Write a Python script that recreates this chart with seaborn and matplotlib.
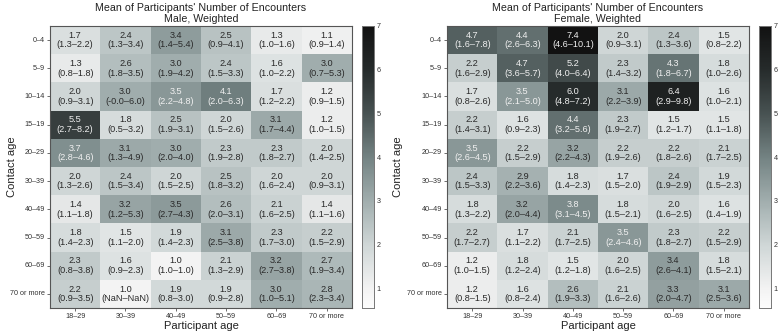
import numpy as np
import matplotlib
matplotlib.use("Agg")
import matplotlib.pyplot as plt
from matplotlib.colors import LinearSegmentedColormap
import seaborn as sns

sns.set_theme(style="white")
plt.rcParams['font.family'] = ['Liberation Sans', 'DejaVu Sans']

contact_age = ['0–4', '5–9', '10–14', '15–19', '20–29', '30–39', '40–49', '50–59', '60–69', '70 or more']
participant_age = ['18–29', '30–39', '40–49', '50–59', '60–69', '70 or more']

male_mean = [[1.7, 2.4, 3.4, 2.5, 1.3, 1.1],
             [1.3, 2.6, 3.0, 2.4, 1.6, 3.0],
             [2.0, 3.0, 3.5, 4.1, 1.7, 1.2],
             [5.5, 1.8, 2.5, 2.0, 3.1, 1.2],
             [3.7, 3.1, 3.0, 2.3, 2.3, 2.0],
             [2.0, 2.4, 2.0, 2.5, 2.0, 2.0],
             [1.4, 3.2, 3.46, 2.6, 2.1, 1.4],
             [1.8, 1.5, 1.9, 3.1, 2.3, 2.2],
             [2.3, 1.6, 1.0, 2.1, 3.2, 2.7],
             [2.2, 1.0, 1.9, 1.9, 3.0, 2.8]]
male_low = [[1.3, 1.3, 1.4, 0.9, 1.0, 0.9],
            [0.8, 1.8, 1.9, 1.5, 1.0, 0.7],
            [0.9, -0.0, 2.2, 2.0, 1.2, 0.9],
            [2.7, 0.5, 1.9, 1.5, 1.7, 1.0],
            [2.8, 1.3, 2.0, 1.9, 1.8, 1.4],
            [1.3, 1.5, 1.5, 1.8, 1.6, 0.9],
            [1.1, 1.2, 2.7, 2.0, 1.6, 1.1],
            [1.4, 1.1, 1.4, 2.5, 1.7, 1.5],
            [0.8, 0.9, 1.0, 1.3, 2.7, 1.9],
            [0.9, np.nan, 0.8, 0.9, 1.0, 2.3]]
male_high = [[2.2, 3.4, 5.4, 4.1, 1.6, 1.4],
             [1.8, 3.5, 4.2, 3.3, 2.2, 5.3],
             [3.1, 6.0, 4.8, 6.3, 2.2, 1.5],
             [8.2, 3.2, 3.1, 2.6, 4.4, 1.5],
             [4.6, 4.9, 4.0, 2.8, 2.7, 2.5],
             [2.6, 3.4, 2.5, 3.2, 2.4, 3.1],
             [1.8, 5.3, 4.3, 3.1, 2.5, 1.6],
             [2.3, 2.0, 2.3, 3.8, 3.0, 2.9],
             [3.8, 2.3, 1.0, 2.9, 3.8, 3.4],
             [3.5, np.nan, 3.0, 2.8, 5.1, 3.4]]

female_mean = [[4.7, 4.4, 7.4, 2.0, 2.4, 1.5],
               [2.2, 4.7, 5.2, 2.3, 4.3, 1.8],
               [1.7, 3.5, 6.0, 3.1, 6.4, 1.6],
               [2.2, 1.6, 4.4, 2.3, 1.5, 1.5],
               [3.5, 2.2, 3.2, 2.2, 2.2, 2.1],
               [2.4, 2.9, 1.8, 1.7, 2.4, 1.9],
               [1.8, 3.2, 3.8, 1.8, 2.0, 1.6],
               [2.2, 1.7, 2.1, 3.5, 2.3, 2.2],
               [1.2, 1.8, 1.5, 2.0, 3.4, 1.8],
               [1.2, 1.6, 2.6, 2.1, 3.3, 3.1]]
female_low = [[1.6, 2.6, 4.6, 0.9, 1.3, 0.8],
              [1.6, 3.6, 4.0, 1.4, 1.8, 1.0],
              [0.8, 2.1, 4.8, 2.2, 2.9, 1.0],
              [1.4, 0.9, 3.2, 1.9, 1.2, 1.1],
              [2.6, 1.5, 2.2, 1.9, 1.8, 1.7],
              [1.5, 2.2, 1.4, 1.5, 1.9, 1.5],
              [1.3, 2.0, 3.1, 1.5, 1.6, 1.4],
              [1.7, 1.1, 1.7, 2.4, 1.8, 1.5],
              [1.0, 1.2, 1.2, 1.6, 2.6, 1.5],
              [0.8, 0.8, 1.9, 1.6, 2.0, 2.5]]
female_high = [[7.8, 6.3, 10.1, 3.1, 3.6, 2.2],
               [2.9, 5.7, 6.4, 3.2, 6.7, 2.6],
               [2.6, 5.0, 7.2, 3.9, 9.8, 2.1],
               [3.1, 2.3, 5.6, 2.7, 1.7, 1.8],
               [4.5, 2.9, 4.3, 2.6, 2.6, 2.5],
               [3.3, 3.6, 2.3, 2.0, 2.9, 2.3],
               [2.2, 4.4, 4.5, 2.1, 2.5, 1.9],
               [2.7, 2.2, 2.5, 4.6, 2.7, 2.9],
               [1.5, 2.4, 1.8, 2.5, 4.1, 2.1],
               [1.5, 2.4, 3.3, 2.6, 4.7, 3.6]]

# grey colormap with a faint teal tint, like the reference colorbar
vmin, vmax = 0.55, 7.0
stops = [(0.55, (0.99, 0.99, 0.99)), (1.0, (0.95, 0.95, 0.95)), (2.0, (0.81, 0.84, 0.84)),
         (3.0, (0.63, 0.68, 0.68)), (4.0, (0.45, 0.51, 0.51)), (5.0, (0.28, 0.32, 0.32)),
         (6.0, (0.15, 0.17, 0.17)), (7.0, (0.07, 0.07, 0.07))]
cmap = LinearSegmentedColormap.from_list(
    'greyteal', [((v - vmin) / (vmax - vmin), c) for v, c in stops])


def fmt(x):
    return 'NaN' if np.isnan(x) else f'{x:.1f}'


def draw(ax, cax, mean, low, high, subtitle, ylab_x):
    mean = np.array(mean)
    low = np.array(low)
    high = np.array(high)
    labels = np.array([[f'{fmt(mean[i, j])}\n({fmt(low[i, j])}–{fmt(high[i, j])})'
                        for j in range(mean.shape[1])] for i in range(mean.shape[0])])
    sns.heatmap(mean, ax=ax, cbar_ax=cax, cmap=cmap, vmin=vmin, vmax=vmax,
                annot=labels, fmt='', xticklabels=participant_age, yticklabels=contact_age,
                annot_kws={'fontsize': 6.6, 'linespacing': 1.1},
                cbar_kws={'ticks': [1, 2, 3, 4, 5, 6, 7]})
    for t, v in zip(ax.texts, mean.flatten()):
        t.set_color('#f0f0f0' if v >= 3.5 else '#2a2a2a')
    ax.set_title('Mean of Participants\' Number of Encounters\n' + subtitle,
                 fontsize=7.7, pad=3, linespacing=1.1, color='#222222')
    ax.set_xlabel('Participant age', fontsize=8, labelpad=1, color='#222222')
    ax.set_ylabel('Contact age', fontsize=8, color='#222222')
    ax.yaxis.set_label_coords(ylab_x, 0.5)
    ax.tick_params(axis='both', labelsize=5.2, length=2, width=0.5, pad=1.5,
                   colors='#333333', bottom=True, left=True)
    ax.tick_params(axis='y', rotation=0)
    ax.tick_params(axis='x', rotation=0)
    for s in ax.spines.values():
        s.set_visible(True)
        s.set_color('#555555')
        s.set_linewidth(0.8)
    cax.tick_params(labelsize=5.2, length=2, width=0.5, direction='in', pad=2, colors='#333333')
    for s in cax.spines.values():
        s.set_visible(True)
        s.set_color('#777777')
        s.set_linewidth(0.6)


fig = plt.figure(figsize=(7.78, 3.32), dpi=100)
ax1 = fig.add_axes([0.0643, 0.072, 0.388, 0.850])
cax1 = fig.add_axes([0.4653, 0.072, 0.0154, 0.850])
ax2 = fig.add_axes([0.5746, 0.072, 0.388, 0.850])
cax2 = fig.add_axes([0.9756, 0.072, 0.0154, 0.850])

draw(ax1, cax1, male_mean, male_low, male_high, 'Male, Weighted', -0.11)
draw(ax2, cax2, female_mean, female_low, female_high, 'Female, Weighted', -0.145)

fig.savefig('out.png', dpi=100)
